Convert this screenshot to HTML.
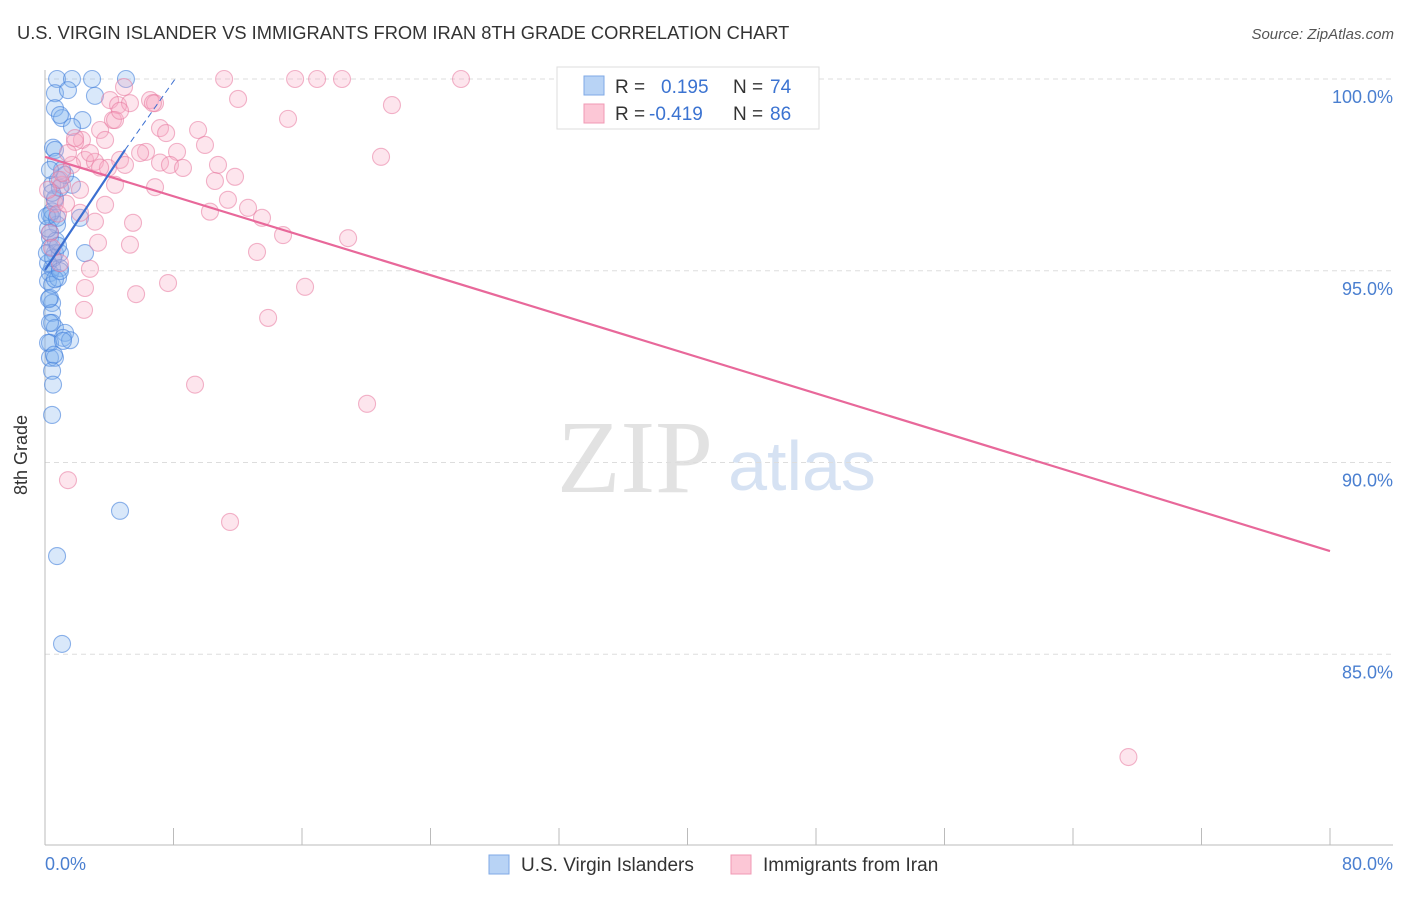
<!DOCTYPE html>
<html><head><meta charset="utf-8"><style>
body{margin:0;background:#fff;font-family:"Liberation Sans",sans-serif;}
svg text{font-family:"Liberation Sans",sans-serif;}
</style></head><body>
<svg id="c" width="1406" height="892" viewBox="0 0 1406 892">
<text x="17" y="39" font-size="18.3" fill="#333">U.S. VIRGIN ISLANDER VS IMMIGRANTS FROM IRAN 8TH GRADE CORRELATION CHART</text>
<text x="1394" y="39" font-size="15" fill="#555" font-style="italic" text-anchor="end">Source: ZipAtlas.com</text>
<text x="635" y="492" font-size="104" fill="#e2e2e2" text-anchor="middle" font-family="Liberation Serif,serif" style="font-family:'Liberation Serif',serif">ZIP</text>
<text x="802" y="490" font-size="70" fill="#d6e2f3" text-anchor="middle">atlas</text>
<g id="grid"></g><g id="axes"></g><g id="pts"></g><g id="trend"></g>
<text x="27" y="455" font-size="18" fill="#333" text-anchor="middle" transform="rotate(-90 27 455)">8th Grade</text>
<text x="45" y="870" font-size="18" fill="#4a7fd0">0.0%</text>
<text x="1393" y="870" font-size="18" fill="#4a7fd0" text-anchor="end">80.0%</text>
<g>
<rect x="557" y="67" width="262" height="62" fill="#fff" stroke="#ddd"/>
<rect x="584" y="76" width="20" height="19" fill="#b8d3f5" stroke="#7fa9e6"/>
<rect x="584" y="104" width="20" height="19" fill="#fcc7d6" stroke="#f09ab4"/>
<text x="615" y="93" font-size="19" fill="#333">R =</text>
<text x="661" y="93" font-size="19" fill="#3b73d1">0.195</text>
<text x="733" y="93" font-size="19" fill="#333">N =</text>
<text x="770" y="93" font-size="19" fill="#3b73d1">74</text>
<text x="615" y="120" font-size="19" fill="#333">R =</text>
<text x="649" y="120" font-size="19" fill="#3b73d1">-0.419</text>
<text x="733" y="120" font-size="19" fill="#333">N =</text>
<text x="770" y="120" font-size="19" fill="#3b73d1">86</text>
</g>
<g>
<rect x="489" y="855" width="20" height="19" fill="#b8d3f5" stroke="#7fa9e6"/>
<text x="521" y="871" font-size="19" fill="#333">U.S. Virgin Islanders</text></g>
<g>
<rect x="731" y="855" width="20" height="19" fill="#fcc7d6" stroke="#f09ab4"/>
<text x="763" y="871" font-size="19" fill="#333">Immigrants from Iran</text></g>
</svg>
<script>
const yTicks=[100,95,90,85];
const yTickLabels=["100.0%","95.0%","90.0%","85.0%"];
const xTicks=[0,8,16,24,32,40,48,56,64,72,80];
const blueX=[0.75,1.68,2.93,5.04,0.62,1.43,3.11,0.62,1.06,0.93,2.33,1.68,0.5,0.62,0.68,1.06,1.68,0.44,0.62,0.31,0.44,0.75,2.18,0.31,0.31,0.62,0.93,2.49,0.44,0.31,0.19,0.93,0.31,0.44,0.44,0.44,0.62,1.25,1.12,0.31,0.31,0.62,0.44,0.5,0.44,4.67,0.75,1.06,0.19,0.44,0.81,0.31,0.44,0.62,0.81,0.19,0.31,0.5,0.12,0.68,0.93,1.25,0.31,0.81,0.19,0.12,1.56,0.44,0.62,0.93,0.25,1.12,0.56,0.75];
const blueY=[100,100,100,100,99.63,99.71,99.56,99.24,98.98,99.06,98.93,98.75,98.21,98.15,97.84,97.63,97.24,97.24,96.85,96.46,96.38,96.2,96.38,95.86,95.6,95.46,95.46,95.46,95.07,94.94,94.73,95.07,94.29,94.16,93.9,93.64,93.51,93.38,93.25,93.12,92.73,92.73,92.39,92.03,91.24,88.74,87.56,85.27,95.2,94.63,94.81,95.99,96.55,96.89,97.37,93.12,93.64,95.33,95.46,95.78,97.16,97.5,97.63,95.65,96.1,96.42,93.19,97.03,94.78,94.99,94.26,93.17,92.81,96.38];
const pinkX=[11.15,15.57,16.94,18.49,25.9,12.02,21.6,15.13,20.92,4.92,4.05,4.55,5.29,6.54,6.85,6.72,4.23,7.16,7.54,9.53,9.96,8.22,6.29,7.16,7.78,8.59,10.77,10.58,6.85,4.36,3.43,3.74,2.3,1.87,2.49,3.11,1.68,4.67,4.98,3.92,1.06,0.93,2.18,3.74,11.39,12.64,13.51,10.27,14.82,18.87,5.48,3.11,2.18,5.29,13.2,3.3,0.93,2.8,2.49,7.66,16.19,5.67,2.43,13.89,9.34,20.05,1.43,11.52,67.45,0.31,0.44,0.62,1.06,1.43,2.8,1.87,5.92,4.36,0.81,0.19,1.31,3.43,4.67,11.83];
const pinkY=[100,100,100,100,100,99.48,99.32,98.96,97.97,99.79,99.45,99.32,99.37,99.45,99.37,99.37,98.93,98.72,98.59,98.67,98.28,98.1,98.1,97.82,97.76,97.68,97.76,97.34,97.18,97.24,98.67,98.41,98.41,98.36,97.89,97.84,97.76,97.89,97.76,97.68,97.24,97.37,97.11,96.72,96.85,96.64,96.38,96.54,95.93,95.85,96.25,96.28,96.51,95.68,95.49,95.73,95.2,95.05,94.55,94.68,94.58,94.39,93.98,93.77,92.03,91.53,89.54,88.45,82.32,95.99,95.6,96.75,97.55,98.07,98.07,98.46,98.07,98.93,96.49,97.11,96.75,97.69,99.17,97.45];
const pinkTrend=[97.97,87.69];
const blueTrend=[95.02,98.15,100];
const blueTrendX=[0,4.98,8.1];
const NS="http://www.w3.org/2000/svg";
const X=v=>45+v/80*1285, Y=v=>79+(100-v)*38.35;
function mk(p,t,a){const e=document.createElementNS(NS,t);for(const k in a)e.setAttribute(k,a[k]);document.getElementById(p).appendChild(e);return e;}
yTicks.forEach((t,i)=>{
 const l=mk('grid','line',{x1:45,x2:1393,y1:Y(t),y2:Y(t),stroke:'#ddd','stroke-dasharray':'5,4'});
 
 
 const tx=mk('grid','text',{x:1393,y:Y(t)+24,'font-size':18,fill:'#4a7fd0','text-anchor':'end'});
 tx.textContent=yTickLabels[i];
 
 
});
const ax=mk('axes','line',{x1:45,x2:1393,y1:845,y2:845,stroke:'#bbb'});


const ay=mk('axes','line',{x1:45,x2:45,y1:70,y2:845,stroke:'#bbb'});


xTicks.forEach(t=>{const l=mk('axes','line',{x1:X(t),x2:X(t),y1:828,y2:845,stroke:'#bbb'});
 
 });
blueX.forEach((v,i)=>{const c=mk('pts','circle',{cx:X(v),cy:Y(blueY[i]),r:8.5,fill:'rgba(130,178,238,0.3)',stroke:'rgba(70,130,220,0.6)','stroke-width':1.1});
 
 });
pinkX.forEach((v,i)=>{const c=mk('pts','circle',{cx:X(v),cy:Y(pinkY[i]),r:8.5,fill:'rgba(247,170,195,0.3)',stroke:'rgba(232,120,158,0.55)','stroke-width':1.1});
 
 });
const pt=mk('trend','line',{x1:X(0),y1:Y(pinkTrend[0]),x2:X(80),y2:Y(pinkTrend[1]),stroke:'#e8689a','stroke-width':2.2});


const bt=mk('trend','line',{x1:X(blueTrendX[0]),y1:Y(blueTrend[0]),x2:X(blueTrendX[1]),y2:Y(blueTrend[1]),stroke:'#3b6fd1','stroke-width':2.2});


const bd=mk('trend','line',{x1:X(blueTrendX[1]),y1:Y(blueTrend[1]),x2:X(blueTrendX[2]),y2:Y(blueTrend[2]),stroke:'#3b6fd1','stroke-width':1,'stroke-dasharray':'6,4'});


</script>
</body></html>
